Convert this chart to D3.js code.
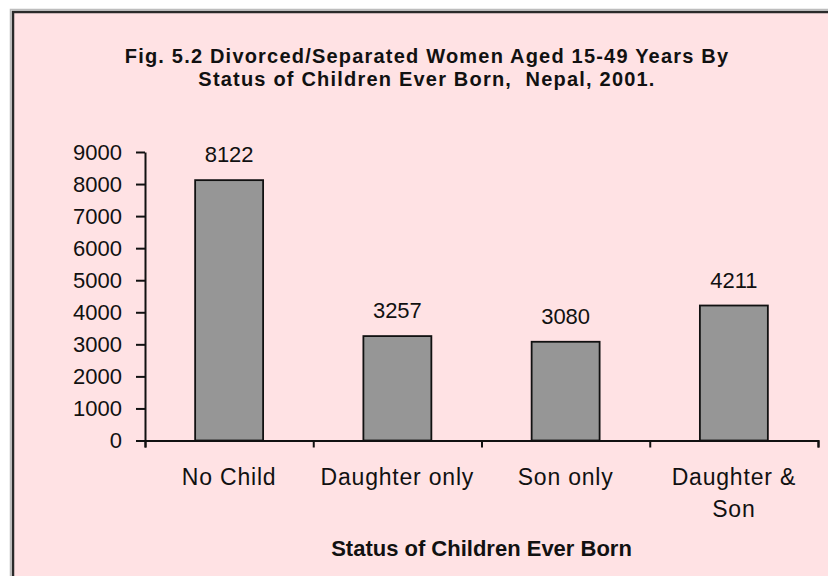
<!DOCTYPE html>
<html>
<head>
<meta charset="utf-8">
<script src="https://cdn.jsdelivr.net/npm/d3@7"></script>
<style>
  html, body { margin: 0; padding: 0; background: #fff; overflow: hidden; }
  svg { display: block; font-family: "Liberation Sans", Arial, sans-serif; }
</style>
</head>
<body>
<script>
const categories = [["No Child"], ["Daughter only"], ["Son only"], ["Daughter &", "Son"]];
const values = [8122, 3257, 3080, 4211];
const yTicks = [0, 1000, 2000, 3000, 4000, 5000, 6000, 7000, 8000, 9000];
const titleLines = ["Fig. 5.2 Divorced/Separated Women Aged 15-49 Years By", "Status of Children Ever Born,  Nepal, 2001."];
const xTitle = "Status of Children Ever Born";

const width = 828;
const height = 576;
const plot = { left: 145, right: 818, top: 152, bottom: 440.5 };

const svg = d3.select("body").append("svg")
  .attr("width", width)
  .attr("height", height);

// chart area with border (right and bottom edges run off the picture)
svg.append("rect")
  .attr("x", 10.5).attr("y", 9.5)
  .attr("width", 900).attr("height", 700)
  .attr("fill", "none")
  .attr("stroke", "#bdbdbd")
  .attr("stroke-width", 1.5);
svg.append("rect")
  .attr("x", 13).attr("y", 12)
  .attr("width", 900).attr("height", 700)
  .attr("fill", "#ffe2e4")
  .attr("stroke", "#2a2a2a")
  .attr("stroke-width", 2.5);

// title
const title = svg.append("text")
  .attr("text-anchor", "middle")
  .attr("font-weight", "bold")
  .attr("font-size", 20)
  .attr("letter-spacing", 1.2)
  .attr("fill", "#111");
title.selectAll("tspan")
  .data(titleLines)
  .join("tspan")
  .attr("x", 427)
  .attr("y", (d, i) => 62.5 + i * 23.5)
  .style("white-space", "pre")
  .text(d => d);

const y = d3.scaleLinear()
  .domain([0, 9000])
  .range([plot.bottom, plot.top]);

const x = d3.scaleBand()
  .domain(d3.range(values.length))
  .range([plot.left, plot.right])
  .paddingInner(0.596)
  .paddingOuter(0.298);

// category boundaries for the tick marks
const xEdge = d3.scaleLinear()
  .domain([0, values.length])
  .range([plot.left, plot.right]);

// bars
svg.append("g")
  .selectAll("rect")
  .data(values)
  .join("rect")
  .attr("x", (d, i) => x(i))
  .attr("y", d => y(d))
  .attr("width", x.bandwidth())
  .attr("height", d => y(0) - y(d))
  .attr("fill", "#969696")
  .attr("stroke", "#111")
  .attr("stroke-width", 1.8);

// value labels
svg.append("g")
  .selectAll("text")
  .data(values)
  .join("text")
  .attr("x", (d, i) => x(i) + x.bandwidth() / 2)
  .attr("y", d => y(d) - 18)
  .attr("text-anchor", "middle")
  .attr("font-size", 22)
  .attr("fill", "#111")
  .text(d => d);

// y axis
const yAxis = svg.append("g")
  .attr("transform", `translate(${plot.left},0)`)
  .call(d3.axisLeft(y).tickValues(yTicks).tickFormat(d3.format("d"))
    .tickSize(9).tickSizeOuter(0).tickPadding(14));
yAxis.selectAll("text").attr("font-size", 22).attr("fill", "#111");
yAxis.attr("font-family", null);

// x axis
const xAxis = svg.append("g")
  .attr("transform", `translate(0,${plot.bottom})`)
  .call(d3.axisBottom(xEdge).ticks(values.length).tickFormat("").tickSize(7).tickSizeOuter(7));
xAxis.selectAll("text").remove();

svg.selectAll(".domain, .tick line")
  .attr("stroke", "#111")
  .attr("stroke-width", 2);

// category labels
const cat = svg.append("g")
  .selectAll("text")
  .data(categories)
  .join("text")
  .attr("text-anchor", "middle")
  .attr("font-size", 23)
  .attr("letter-spacing", 0.8)
  .attr("fill", "#111");
cat.selectAll("tspan")
  .data((d, i) => d.map(t => ({ t, i })))
  .join("tspan")
  .attr("x", d => x(d.i) + x.bandwidth() / 2)
  .attr("y", (d, j) => 485 + j * 32)
  .text(d => d.t);

// x axis title
svg.append("text")
  .attr("x", (plot.left + plot.right) / 2)
  .attr("y", 556)
  .attr("text-anchor", "middle")
  .attr("font-weight", "bold")
  .attr("font-size", 22)
  .attr("fill", "#111")
  .text(xTitle);
</script>
</body>
</html>
